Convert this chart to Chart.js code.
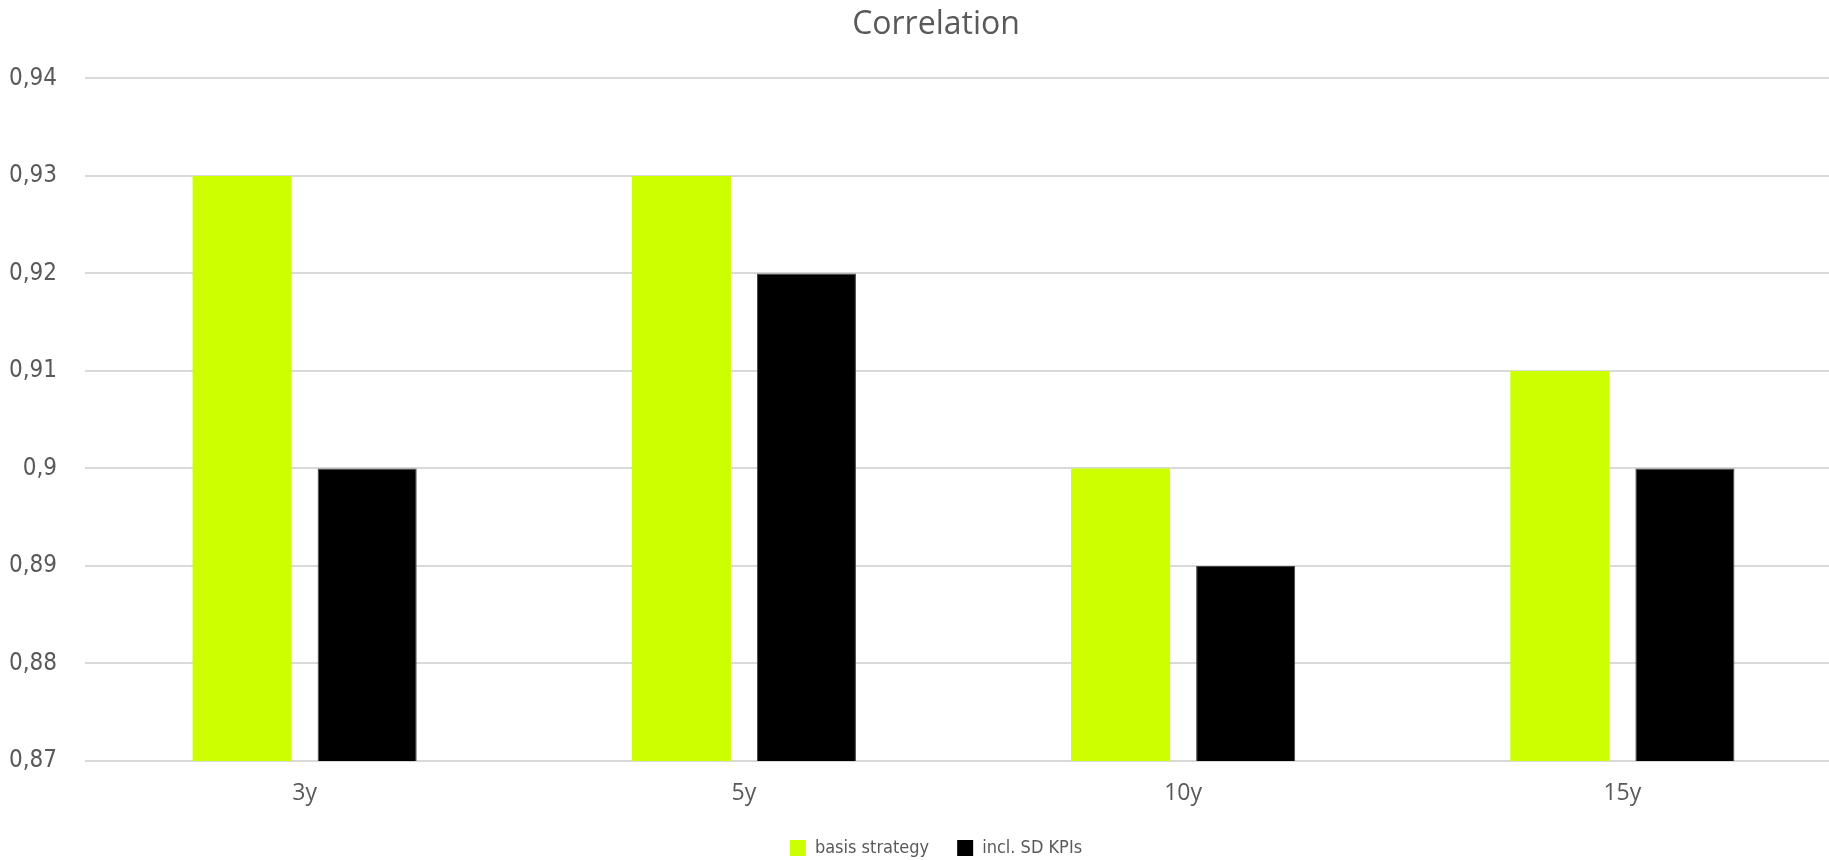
<!DOCTYPE html>
<html>
<head>
<meta charset="utf-8">
<script src="https://cdn.jsdelivr.net/npm/chart.js@4/dist/chart.umd.min.js"></script>
<style>
  html, body { margin: 0; padding: 0; background: #fff; overflow: hidden; }
  /* canvas is a bit wider than the window: the source chart is cut off at the right */
  #wrap { width: 1872px; height: 860px; }
</style>
</head>
<body>
<div id="wrap"><canvas id="corrChart"></canvas></div>
<script>
// Data
const categories = ["3y", "5y", "10y", "15y"];
const basisStrategy = [0.93, 0.93, 0.90, 0.91];
const inclSdKpis = [0.90, 0.92, 0.89, 0.90];
const yMin = 0.87, yMax = 0.94, yStep = 0.01;

const narrow = "'DejaVu Sans Condensed', 'Liberation Sans Narrow', sans-serif";
const grey = "#595959";

const ctx = document.getElementById("corrChart").getContext("2d");
new Chart(ctx, {
  type: "bar",
  data: {
    labels: categories,
    datasets: [{
      label: "basis strategy",
      data: basisStrategy,
      backgroundColor: "#ccff00",
      borderWidth: 0,
      categoryPercentage: 0.5695,
      barPercentage: 0.792
    }, {
      label: "incl. SD KPIs",
      data: inclSdKpis,
      backgroundColor: "#000000",
      borderColor: "#404040",
      borderWidth: 1,
      categoryPercentage: 0.5695,
      barPercentage: 0.792
    }]
  },
  options: {
    responsive: true,
    maintainAspectRatio: false,
    animation: false,
    layout: { padding: { left: 0, right: 0, top: 0, bottom: -7 } },
    plugins: {
      title: {
        display: true,
        text: "Correlation",
        color: grey,
        font: { family: "'Open Sans', sans-serif", size: 32, weight: "normal" },
        padding: { top: 6, bottom: 34 }
      },
      legend: {
        position: "bottom",
        labels: {
          color: grey,
          font: { family: narrow, size: 18 },
          boxWidth: 16,
          boxHeight: 16,
          padding: 28,
          generateLabels: (chart) => chart.data.datasets.map((ds, i) => ({
            text: ds.label,
            fillStyle: ds.backgroundColor,
            strokeStyle: ds.backgroundColor,
            lineWidth: 0,
            fontColor: grey,
            datasetIndex: i
          }))
        }
      },
      tooltip: { enabled: false }
    },
    scales: {
      x: {
        grid: { display: false, drawTicks: false },
        border: { display: false },
        ticks: {
          color: grey,
          font: { family: "'Open Sans', sans-serif", size: 23 },
          padding: 19
        },
        afterFit: (scale) => { scale.height = 50; }
      },
      y: {
        min: yMin,
        max: yMax,
        grid: { color: "#d9d9d9", lineWidth: 2, drawTicks: false },
        border: { display: false },
        ticks: {
          stepSize: yStep,
          color: grey,
          font: { family: narrow, size: 24 },
          padding: 28,
          callback: (v) => Number(v.toFixed(2)).toString().replace(".", ",")
        },
        afterFit: (scale) => { scale.width = 85; }
      },
      // empty right-hand spacer so title and legend sit centred like the source
      yRight: {
        position: "right",
        grid: { display: false, drawTicks: false },
        border: { display: false },
        ticks: { display: false },
        afterFit: (scale) => { scale.width = 30; }
      }
    }
  }
});
</script>
</body>
</html>
